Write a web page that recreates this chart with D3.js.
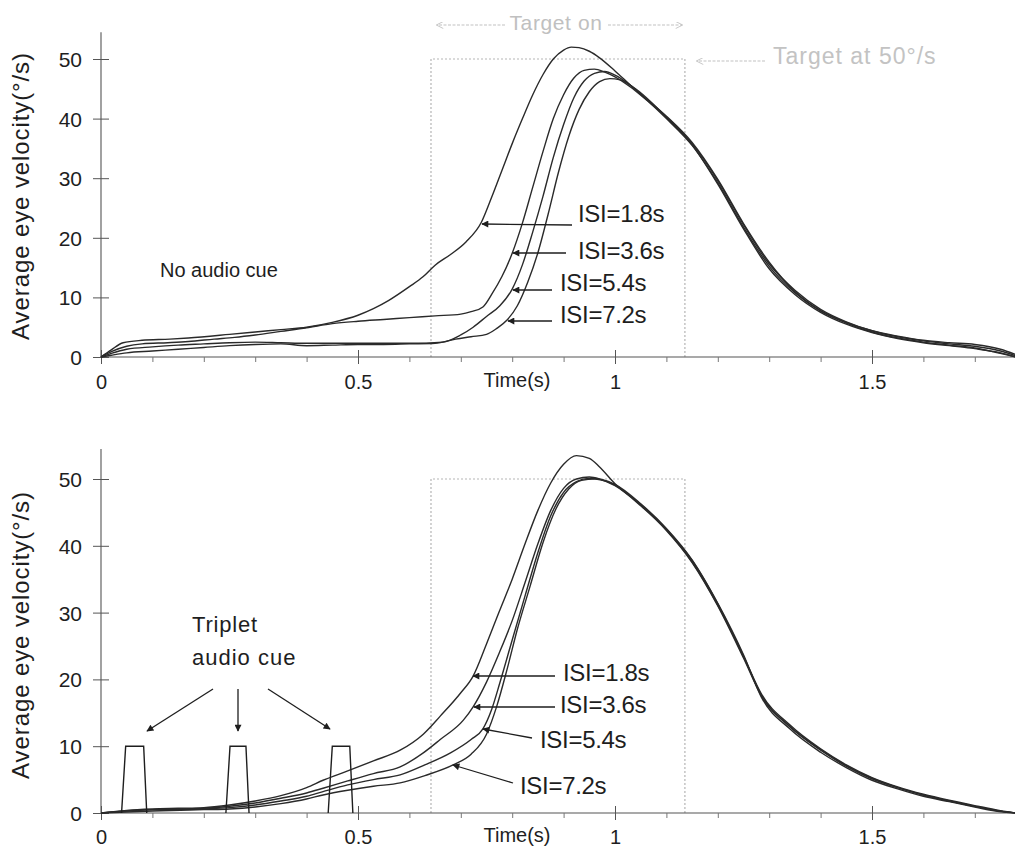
<!DOCTYPE html>
<html><head><meta charset="utf-8">
<script src="https://cdn.jsdelivr.net/npm/d3@7"></script>
<style>
body{margin:0;background:#fff;}
text{font-family:"Liberation Sans",Arial,sans-serif;fill:#1e1e1e;}
</style></head><body>
<svg id="c" width="1015" height="861"></svg>
<script>
// ---------- data ----------
const majorTicksX = [0, 0.5, 1, 1.5];
const minorTicksX = d3.range(0, 1.81, 0.1);
const ticksY = [0, 10, 20, 30, 40, 50];
const seriesNames = ["ISI=1.8s", "ISI=3.6s", "ISI=5.4s", "ISI=7.2s"];
const targetOn = [0.642, 1.136];
const targetVelocity = 50;
const cueStart = [0.040, 0.243, 0.442];
const cueEnd = [0.089, 0.288, 0.490];
const cueLevel = 10;

// top panel: no audio cue  [time (s), velocity (deg/s)]
const top18 = [[0,0],[0.02,1.2],[0.043,2.4],[0.08,2.8],[0.134,3.0],[0.17,3.2],[0.25,3.8],[0.30,4.2],[0.35,4.6],[0.40,5.0],[0.45,5.8],[0.50,7.0],[0.53,8.1],[0.56,9.5],[0.60,11.8],[0.627,13.5],[0.65,15.4],[0.68,17.2],[0.71,19.3],[0.74,22.6],[0.76,26.8],[0.78,31.3],[0.80,35.8],[0.82,40.0],[0.84,44.0],[0.86,47.4],[0.88,50.0],[0.90,51.5],[0.915,52.0],[0.93,51.9],[0.95,51.3],[0.97,50.2],[1.0,48.0],[1.03,45.6],[1.06,43.3],[1.1,40.0],[1.15,35.5],[1.2,29.2],[1.25,21.8],[1.3,15.2],[1.35,10.8],[1.4,7.7],[1.45,5.7],[1.5,4.2],[1.55,3.2],[1.6,2.5],[1.65,2.0],[1.7,1.5],[1.74,0.8],[1.78,0]];
const top36 = [[0,0],[0.02,0.9],[0.05,1.8],[0.08,2.2],[0.13,2.4],[0.17,2.6],[0.22,3.0],[0.26,3.3],[0.30,3.7],[0.35,4.3],[0.40,4.9],[0.45,5.6],[0.50,6.0],[0.55,6.3],[0.60,6.6],[0.65,6.9],[0.70,7.2],[0.72,7.6],[0.743,8.4],[0.76,10.5],[0.78,13.5],[0.80,17.4],[0.82,22.5],[0.84,28.5],[0.86,34.5],[0.88,40.0],[0.90,44.0],[0.92,46.8],[0.94,48.1],[0.96,48.3],[0.98,47.8],[1.0,47.0],[1.03,45.3],[1.06,43.2],[1.1,40.3],[1.15,35.8],[1.2,29.6],[1.25,22.2],[1.3,15.6],[1.35,11.2],[1.4,8.0],[1.45,5.9],[1.5,4.4],[1.55,3.4],[1.6,2.7],[1.65,2.2],[1.7,1.8],[1.75,1.0],[1.78,0.2]];
const top54 = [[0,0],[0.02,0.6],[0.05,1.3],[0.1,1.7],[0.15,2.0],[0.2,2.2],[0.25,2.4],[0.3,2.5],[0.35,2.4],[0.4,2.3],[0.45,2.3],[0.5,2.3],[0.55,2.3],[0.6,2.3],[0.665,2.5],[0.70,3.7],[0.724,5.0],[0.75,6.8],[0.776,8.6],[0.80,11.4],[0.82,15.5],[0.84,21.0],[0.86,27.0],[0.88,33.5],[0.90,39.0],[0.92,43.5],[0.94,46.3],[0.96,47.6],[0.98,47.9],[1.0,47.3],[1.03,45.6],[1.06,43.4],[1.1,40.4],[1.15,36.0],[1.2,29.8],[1.25,22.4],[1.3,15.9],[1.35,11.0],[1.4,7.8],[1.45,5.8],[1.5,4.4],[1.55,3.5],[1.6,2.8],[1.65,2.4],[1.7,2.1],[1.75,1.3],[1.78,0.4]];
const top72 = [[0,0],[0.02,0.3],[0.05,0.7],[0.1,1.0],[0.15,1.3],[0.2,1.6],[0.25,1.9],[0.3,2.1],[0.35,2.2],[0.4,1.9],[0.45,2.0],[0.5,2.1],[0.55,2.1],[0.6,2.2],[0.65,2.3],[0.69,3.0],[0.72,3.4],[0.75,3.8],[0.77,4.8],[0.79,6.2],[0.81,8.6],[0.83,12.5],[0.85,17.5],[0.87,24.0],[0.89,31.0],[0.91,37.0],[0.93,41.5],[0.95,44.5],[0.97,46.2],[0.99,46.7],[1.01,46.5],[1.04,45.0],[1.07,42.8],[1.1,40.2],[1.15,35.6],[1.2,29.0],[1.25,21.5],[1.3,14.8],[1.35,10.5],[1.4,7.5],[1.45,5.5],[1.5,4.1],[1.55,3.1],[1.6,2.4],[1.65,1.9],[1.7,1.4],[1.75,0.7],[1.78,0]];

// bottom panel: triplet audio cue
const bot18 = [[0,0],[0.05,0.4],[0.1,0.6],[0.15,0.7],[0.2,0.8],[0.25,1.2],[0.3,1.8],[0.35,2.6],[0.4,3.8],[0.432,4.9],[0.48,6.3],[0.53,7.8],[0.582,9.4],[0.627,11.8],[0.66,14.5],[0.70,18.0],[0.724,20.5],[0.75,25.3],[0.775,30.2],[0.80,35.0],[0.825,40.3],[0.85,45.3],[0.875,49.4],[0.90,52.2],[0.925,53.5],[0.95,53.1],[0.97,51.8],[1.0,49.3],[1.05,46.2],[1.1,42.5],[1.15,37.8],[1.2,31.3],[1.25,23.5],[1.285,17.8],[1.34,13.2],[1.4,9.6],[1.45,7.2],[1.5,5.3],[1.55,3.9],[1.6,2.8],[1.65,1.9],[1.7,1.1],[1.74,0.5],[1.78,0]];
const bot36 = [[0,0],[0.05,0.3],[0.1,0.5],[0.2,0.7],[0.25,1.0],[0.3,1.5],[0.35,2.2],[0.4,3.0],[0.432,3.7],[0.48,4.8],[0.53,5.9],[0.582,6.9],[0.627,9.0],[0.66,11.0],[0.705,13.9],[0.724,15.9],[0.75,19.6],[0.775,24.0],[0.80,28.8],[0.825,34.5],[0.85,40.3],[0.875,45.3],[0.90,48.6],[0.925,50.0],[0.95,50.3],[0.97,50.0],[1.0,49.0],[1.05,46.0],[1.1,42.3],[1.15,37.5],[1.2,31.0],[1.25,23.2],[1.285,17.5],[1.34,12.9],[1.4,9.4],[1.45,7.0],[1.5,5.1],[1.55,3.8],[1.6,2.7],[1.65,1.8],[1.7,1.0],[1.74,0.4],[1.78,0]];
const bot54 = [[0,0],[0.1,0.5],[0.2,0.6],[0.25,0.8],[0.3,1.2],[0.35,1.8],[0.4,2.5],[0.432,3.2],[0.48,4.2],[0.53,5.0],[0.582,5.7],[0.63,7.2],[0.68,9.0],[0.72,11.0],[0.743,12.6],[0.76,15.5],[0.776,19.5],[0.80,25.9],[0.825,32.5],[0.85,39.0],[0.875,44.5],[0.90,48.0],[0.925,49.6],[0.95,50.1],[0.975,49.9],[1.0,49.2],[1.05,46.3],[1.1,42.6],[1.15,37.9],[1.2,31.4],[1.25,23.7],[1.285,17.3],[1.34,12.6],[1.4,9.1],[1.45,6.8],[1.5,4.9],[1.55,3.6],[1.6,2.5],[1.65,1.7],[1.7,0.9],[1.74,0.3],[1.78,0]];
const bot72 = [[0,0],[0.1,0.3],[0.2,0.5],[0.25,0.6],[0.3,0.9],[0.35,1.4],[0.4,2.1],[0.432,2.7],[0.48,3.4],[0.53,4.0],[0.582,4.5],[0.63,5.6],[0.685,7.2],[0.72,8.8],[0.75,11.8],[0.77,16.0],[0.79,21.5],[0.81,27.5],[0.835,34.0],[0.86,40.5],[0.885,45.5],[0.91,48.5],[0.935,49.8],[0.96,50.0],[0.985,49.6],[1.0,49.1],[1.05,46.1],[1.1,42.4],[1.15,37.6],[1.2,31.1],[1.25,23.4],[1.285,17.6],[1.34,13.0],[1.4,9.5],[1.45,7.1],[1.5,5.2],[1.55,3.8],[1.6,2.7],[1.65,1.8],[1.7,1.0],[1.74,0.4],[1.78,0]];

// ---------- drawing ----------
const svg = d3.select("#c");
const defs = svg.append("defs");
defs.append("marker").attr("id","ah").attr("viewBox","0 0 10 10").attr("refX",9).attr("refY",5)
  .attr("markerWidth",9).attr("markerHeight",7).attr("markerUnits","userSpaceOnUse").attr("orient","auto")
  .append("path").attr("d","M0,0 L10,5 L0,10 Z").attr("fill","#1e1e1e");
defs.append("marker").attr("id","ahg").attr("viewBox","0 0 10 10").attr("refX",9).attr("refY",5)
  .attr("markerWidth",8).attr("markerHeight",7).attr("markerUnits","userSpaceOnUse").attr("orient","auto")
  .append("path").attr("d","M0,0 L10,5 L0,10").attr("fill","none").attr("stroke","#bdbdbd").attr("stroke-width",1.2);

const x = d3.scaleLinear().domain([0, 1.8]).range([101, 101 + 1.8 * 514]);
const line = d3.line().x(d => x(d[0])).curve(d3.curveMonotoneX);

const panels = [
  { y: d3.scaleLinear().domain([0, 50]).range([357, 59]), series: [top18, top36, top54, top72],
    tickLabelY: 32, titleY: 196 },
  { y: d3.scaleLinear().domain([0, 50]).range([813, 479]), series: [bot18, bot36, bot54, bot72],
    tickLabelY: 31, titleY: 635 }
];

panels.forEach((p, pi) => {
  const g = svg.append("g");
  const y = p.y;
  const y0 = y(0);

  // target rectangle (dotted grey)
  g.append("path")
    .attr("d", `M${x(targetOn[0])},${y0} V${y(targetVelocity)} H${x(targetOn[1])} V${y0}`)
    .attr("fill","none").attr("stroke","#b5b5b5").attr("stroke-width",1.2).attr("stroke-dasharray","2,2");

  // x axis
  const ax = g.append("g").attr("transform", `translate(0,${y0})`);
  ax.append("line").attr("x1", x(0)).attr("x2", 1015).attr("stroke", "#555").attr("stroke-width", 1.1);
  ax.append("g").call(d3.axisBottom(x).tickValues(minorTicksX).tickSize(5).tickFormat(""))
    .call(s => s.select(".domain").remove())
    .call(s => s.selectAll(".tick line").attr("stroke","#777"));
  ax.append("g").call(d3.axisBottom(x).tickValues(majorTicksX).tickSize(7).tickFormat(d3.format("")))
    .call(s => s.select(".domain").remove())
    .call(s => s.selectAll(".tick line").attr("y1", -7).attr("y2", 7).attr("stroke","#555"))
    .call(s => s.selectAll(".tick text").attr("y", p.tickLabelY).attr("dy", 0)
        .style("font-family", '"Liberation Sans",Arial,sans-serif').style("font-size", "20px").attr("fill", "#1e1e1e"));
  ax.append("text").attr("x", 517).attr("y", p.tickLabelY - 2).attr("text-anchor", "middle")
    .style("font-size", "20px").text("Time(s)");

  // y axis
  const ay = g.append("g").attr("transform", `translate(${x(0)},0)`);
  ay.append("line").attr("y1", y(54.5)).attr("y2", y0).attr("stroke", "#555").attr("stroke-width", 1.1);
  ay.append("g").call(d3.axisLeft(y).tickValues(ticksY).tickSize(8))
    .call(s => s.select(".domain").remove())
    .call(s => s.selectAll(".tick line").attr("x1", -8).attr("x2", 8).attr("stroke","#555"))
    .call(s => s.selectAll(".tick text").attr("x", -19).attr("dy", "0.36em")
        .style("font-family", '"Liberation Sans",Arial,sans-serif').style("font-size", "21px").attr("fill", "#1e1e1e"));
  g.append("text").attr("transform", `translate(29,${p.titleY}) rotate(-90)`).attr("text-anchor", "middle")
    .style("font-size", "24px").style("letter-spacing", "0.9px").text("Average eye velocity(°/s)");

  // series
  p.series.forEach((s, i) => {
    g.append("path").datum(s).attr("d", line.y(d => y(d[1])))
      .attr("fill", "none").attr("stroke", "#2a2a2a").attr("stroke-width", 1.4);
  });

  // triplet cue pulses (bottom only)
  if (pi === 1) {
    cueStart.forEach((c, i) => {
      const e = cueEnd[i];
      g.append("path")
        .attr("d", `M${x(c)},${y0} L${x(c + 0.008)},${y(cueLevel)} L${x(e - 0.006)},${y(cueLevel)} L${x(e)},${y0}`)
        .attr("fill", "none").attr("stroke", "#1e1e1e").attr("stroke-width", 1.4);
    });
  }
});

// ---------- annotations ----------
const ann = svg.append("g");
function arrow(x1, y1, x2, y2, grey) {
  ann.append("line").attr("x1", x1).attr("y1", y1).attr("x2", x2).attr("y2", y2)
    .attr("stroke", grey ? "#c2c2c2" : "#1e1e1e").attr("stroke-width", grey ? 1.1 : 1.3)
    .attr("stroke-dasharray", grey ? "3,1.5" : null)
    .attr("marker-end", grey ? "url(#ahg)" : "url(#ah)");
}
function label(t, x0, y0, size, opts = {}) {
  const tx = ann.append("text").attr("x", x0).attr("y", y0).style("font-size", size + "px").text(t);
  if (opts.ls) tx.style("letter-spacing", opts.ls);
  if (opts.fill) tx.attr("fill", opts.fill).style("fill", opts.fill);
  if (opts.anchor) tx.attr("text-anchor", opts.anchor);
  if (opts.family) tx.style("font-family", opts.family);
  return tx;
}

// top
const narrow = '"Liberation Sans Narrow","Arial Narrow","Liberation Sans",sans-serif';
label("Target on", 556, 30, 21, { fill: "#c0c0c0", anchor: "middle", family: narrow, ls: "0.6px" });
arrow(505, 25, 437, 25, true);
arrow(608, 25, 682, 25, true);
label("Target at 50°/s", 773, 64, 23, { fill: "#c3c3c3", family: narrow, ls: "1px" });
arrow(765, 61, 697, 61, true);
label("No audio cue", 160, 277, 20);

const topLab = [[578, 222, 572, 225, 482, 224], [578, 259, 566, 253, 513, 253], [560, 291, 552, 290, 513, 290], [560, 323, 552, 321, 508, 321]];
topLab.forEach((l, i) => { label(seriesNames[i], l[0], l[1], 24, { ls: "-0.3px" }); arrow(l[2], l[3], l[4], l[5]); });

// bottom
label("Triplet", 192, 632, 22, { ls: "0.8px" });
label("audio cue", 192, 665, 22, { ls: "1px" });
arrow(213, 689, 147, 731);
arrow(238, 689, 238, 731);
arrow(268, 689, 330, 729);

const botLab = [[563, 681, 555, 676, 473, 676], [560, 713, 555, 707, 474, 707], [540, 748, 532, 738, 483, 729], [520, 794, 513, 783, 453, 765]];
botLab.forEach((l, i) => { label(seriesNames[i], l[0], l[1], 24, { ls: "-0.3px" }); arrow(l[2], l[3], l[4], l[5]); });
</script>
</body></html>
